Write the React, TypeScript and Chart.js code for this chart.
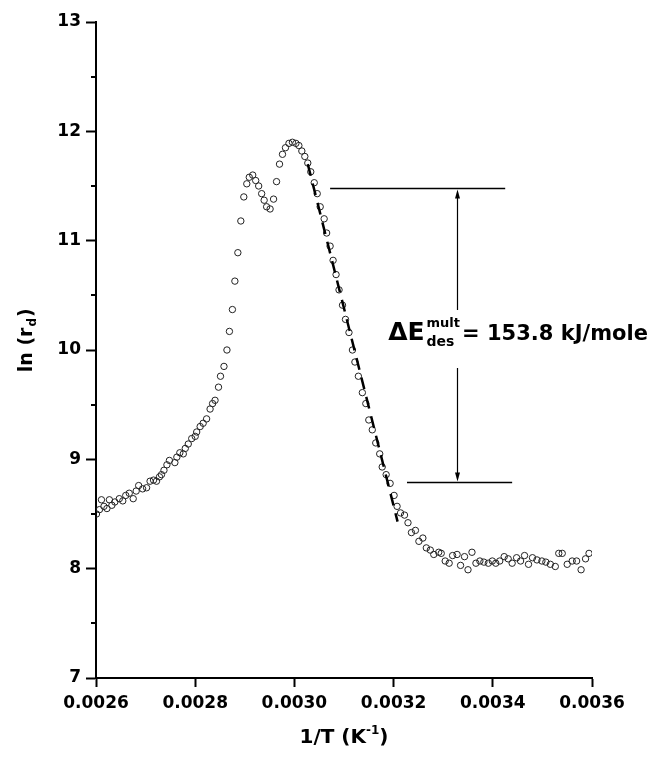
import React, { useEffect, useRef } from 'react';
import { Chart, registerables } from 'chart.js';

Chart.register(...registerables);

// ---- data ----
const inverseT = [
  0.002601, 0.002607, 0.002611, 0.002616, 0.002622, 0.002627, 0.002632, 0.002638, 0.002647, 0.002654,
  0.00266, 0.002667, 0.002675, 0.002681, 0.002686, 0.002694, 0.002702, 0.002709, 0.002716, 0.002722,
  0.002728, 0.002732, 0.002737, 0.002743, 0.002748, 0.002759, 0.002763, 0.002769, 0.002776, 0.00278,
  0.002786, 0.002793, 0.0028, 0.002803, 0.00281, 0.002816, 0.002823, 0.00283, 0.002835, 0.00284,
  0.002847, 0.002851, 0.002858, 0.002864, 0.002869, 0.002875, 0.00288, 0.002886, 0.002892, 0.002898,
  0.002904, 0.002909, 0.002916, 0.002922, 0.002928, 0.002934, 0.002939, 0.002944, 0.002951, 0.002958,
  0.002964, 0.00297, 0.002976, 0.002982, 0.002989, 0.002996, 0.003003, 0.003009, 0.003015, 0.003021,
  0.003027, 0.003033, 0.00304, 0.003046, 0.003052, 0.00306, 0.003065, 0.003072, 0.003078, 0.003084,
  0.00309, 0.003097, 0.003103, 0.00311, 0.003117, 0.003122, 0.003129, 0.003137, 0.003144, 0.00315,
  0.003157, 0.003164, 0.003172, 0.003177, 0.003185, 0.003193, 0.003201, 0.003207, 0.003214, 0.003222,
  0.003229, 0.003236, 0.003244, 0.003251, 0.003259, 0.003266, 0.003274, 0.003281, 0.003291, 0.003296,
  0.003304, 0.003312, 0.003319, 0.003328, 0.003335, 0.003343, 0.00335, 0.003358, 0.003366, 0.003374,
  0.003382, 0.003391, 0.003399, 0.003406, 0.003414, 0.003423, 0.003431, 0.003439, 0.003448, 0.003456,
  0.003464, 0.003472, 0.00348, 0.003489, 0.003499, 0.003507, 0.003516, 0.003526, 0.003533, 0.00354,
  0.00355, 0.00356, 0.003569, 0.003578, 0.003587, 0.003594,
];
const lnRd = [
  8.50, 8.54, 8.63, 8.57, 8.55, 8.63, 8.58, 8.61, 8.64, 8.62,
  8.67, 8.69, 8.64, 8.71, 8.76, 8.73, 8.74, 8.80, 8.81, 8.80,
  8.84, 8.86, 8.90, 8.95, 8.99, 8.97, 9.02, 9.06, 9.05, 9.10,
  9.14, 9.19, 9.21, 9.25, 9.30, 9.33, 9.37, 9.46, 9.51, 9.54,
  9.66, 9.76, 9.85, 10.00, 10.17, 10.37, 10.63, 10.89, 11.18, 11.40,
  11.52, 11.58, 11.60, 11.55, 11.50, 11.43, 11.37, 11.31, 11.29, 11.38,
  11.54, 11.70, 11.79, 11.85, 11.89, 11.90, 11.89, 11.87, 11.82, 11.77,
  11.71, 11.63, 11.53, 11.43, 11.31, 11.20, 11.07, 10.95, 10.82, 10.69,
  10.55, 10.41, 10.28, 10.16, 10.00, 9.89, 9.76, 9.61, 9.51, 9.36,
  9.27, 9.15, 9.05, 8.93, 8.86, 8.78, 8.67, 8.57, 8.51, 8.49,
  8.42, 8.33, 8.35, 8.25, 8.28, 8.19, 8.17, 8.13, 8.15, 8.14,
  8.07, 8.05, 8.12, 8.13, 8.03, 8.11, 7.99, 8.15, 8.05, 8.07,
  8.06, 8.05, 8.07, 8.05, 8.07, 8.11, 8.09, 8.05, 8.10, 8.07,
  8.12, 8.04, 8.10, 8.08, 8.07, 8.06, 8.04, 8.02, 8.14, 8.14,
  8.04, 8.07, 8.07, 7.99, 8.09, 8.14,
];
const fitX = [0.003027, 0.003208];
const fitY = [11.70, 8.43];

const xTickValues = [0.0026, 0.0028, 0.003, 0.0032, 0.0034, 0.0036];
const yTickValues = [7, 8, 9, 10, 11, 12, 13];
const yMinorValues = [7.5, 8.5, 9.5, 10.5, 11.5, 12.5];

// annotation (in data units)
const bracketTop = { y: 11.48, x0: 0.003072, x1: 0.003425 };
const bracketBottom = { y: 8.79, x0: 0.003227, x1: 0.003439 };
const arrowX = 0.003328;
const arrowGapTop = 10.365;
const arrowGapBottom = 9.835;
const labelX = 0.003189;
const labelBaseline = 10.09;
const labelMain = 'ΔE';
const labelSup = 'mult';
const labelSub = 'des';
const labelRest = '= 153.8 kJ/mole';

const FONT = "'DejaVu Sans', sans-serif";

const overlayPlugin = {
  id: 'overlay',
  afterDraw(chart: any) {
    const ctx = chart.ctx as CanvasRenderingContext2D;
    const xs = chart.scales.x;
    const ys = chart.scales.y;
    const area = chart.chartArea;
    ctx.save();
    ctx.strokeStyle = '#000';
    ctx.fillStyle = '#000';

    // minor y ticks
    ctx.lineWidth = 2;
    yMinorValues.forEach((v) => {
      const py = Math.round(ys.getPixelForValue(v));
      ctx.beginPath();
      ctx.moveTo(area.left - 5, py);
      ctx.lineTo(area.left, py);
      ctx.stroke();
    });

    // bracket lines
    ctx.lineWidth = 1.5;
    const tY = Math.round(ys.getPixelForValue(bracketTop.y)) + 0.5;
    ctx.beginPath();
    ctx.moveTo(xs.getPixelForValue(bracketTop.x0), tY);
    ctx.lineTo(xs.getPixelForValue(bracketTop.x1), tY);
    ctx.stroke();
    const bY = Math.round(ys.getPixelForValue(bracketBottom.y)) + 0.5;
    ctx.beginPath();
    ctx.moveTo(xs.getPixelForValue(bracketBottom.x0), bY);
    ctx.lineTo(xs.getPixelForValue(bracketBottom.x1), bY);
    ctx.stroke();

    // arrows
    const ax = Math.round(xs.getPixelForValue(arrowX)) + 0.5;
    const g1 = ys.getPixelForValue(arrowGapTop);
    const g2 = ys.getPixelForValue(arrowGapBottom);
    ctx.lineWidth = 1.2;
    ctx.beginPath();
    ctx.moveTo(ax, tY + 8);
    ctx.lineTo(ax, g1);
    ctx.moveTo(ax, g2);
    ctx.lineTo(ax, bY - 8);
    ctx.stroke();
    ctx.beginPath();
    ctx.moveTo(ax, tY + 1);
    ctx.lineTo(ax - 2.5, tY + 10);
    ctx.lineTo(ax + 2.5, tY + 10);
    ctx.closePath();
    ctx.fill();
    ctx.beginPath();
    ctx.moveTo(ax, bY - 1);
    ctx.lineTo(ax - 2.5, bY - 10);
    ctx.lineTo(ax + 2.5, bY - 10);
    ctx.closePath();
    ctx.fill();

    // label
    const lx = xs.getPixelForValue(labelX);
    const ly = ys.getPixelForValue(labelBaseline);
    ctx.textBaseline = 'alphabetic';
    ctx.textAlign = 'left';
    ctx.font = `bold 25px ${FONT}`;
    ctx.fillText(labelMain, lx, ly);
    const wMain = ctx.measureText(labelMain).width;
    ctx.font = `bold 13px ${FONT}`;
    ctx.fillText(labelSup, lx + wMain + 2, ly - 13);
    const wSup = ctx.measureText(labelSup).width;
    ctx.font = `bold 14px ${FONT}`;
    ctx.fillText(labelSub, lx + wMain + 2, ly + 6);
    const wSub = ctx.measureText(labelSub).width;
    ctx.font = `bold 21px ${FONT}`;
    ctx.fillText(labelRest, lx + wMain + 4 + Math.max(wSup, wSub), ly);

    // x-axis title: 1/T (K^-1)
    const xa = '1/T (K';
    const xb = '-1';
    const xc = ')';
    ctx.font = `bold 20px ${FONT}`;
    const wa = ctx.measureText(xa).width;
    const wc = ctx.measureText(xc).width;
    ctx.font = `bold 12px ${FONT}`;
    const wb = ctx.measureText(xb).width;
    const totalX = wa + wb + wc;
    const cx = (area.left + area.right) / 2;
    const tyX = 743;
    const sx = cx - totalX / 2;
    ctx.font = `bold 20px ${FONT}`;
    ctx.fillText(xa, sx, tyX);
    ctx.font = `bold 12px ${FONT}`;
    ctx.fillText(xb, sx + wa, tyX - 9);
    ctx.font = `bold 20px ${FONT}`;
    ctx.fillText(xc, sx + wa + wb, tyX);

    // y-axis title: ln (r_d)
    const ya = 'ln (r';
    const yb = 'd';
    const yc = ')';
    ctx.font = `bold 19px ${FONT}`;
    const wya = ctx.measureText(ya).width;
    const wyc = ctx.measureText(yc).width;
    ctx.font = `bold 12px ${FONT}`;
    const wyb = ctx.measureText(yb).width;
    const totalY = wya + wyb + wyc;
    const cy = ys.getPixelForValue(10.08);
    ctx.translate(32, cy);
    ctx.rotate(-Math.PI / 2);
    const sy = -totalY / 2;
    ctx.font = `bold 19px ${FONT}`;
    ctx.fillText(ya, sy, 0);
    ctx.font = `bold 12px ${FONT}`;
    ctx.fillText(yb, sy + wya + 1, 4);
    ctx.font = `bold 19px ${FONT}`;
    ctx.fillText(yc, sy + wya + wyb + 2, 0);

    ctx.restore();
  },
};

export default function App() {
  const canvasRef = useRef<HTMLCanvasElement | null>(null);

  useEffect(() => {
    if (!canvasRef.current) return;
    const points = inverseT.map((x, i) => ({ x, y: lnRd[i] }));
    const fit = fitX.map((x, i) => ({ x, y: fitY[i] }));
    const chart = new Chart(canvasRef.current, {
      type: 'scatter',
      data: {
        datasets: [
          {
            type: 'line',
            data: fit,
            borderColor: '#000',
            borderWidth: 2.5,
            borderDash: [12, 8],
            pointRadius: 0,
            fill: false,
          } as any,
          {
            data: points,
            pointRadius: 3.2,
            pointStyle: 'circle',
            borderColor: '#222',
            backgroundColor: 'rgba(0,0,0,0)',
            borderWidth: 1,
          },
        ],
      },
      options: {
        responsive: false,
        animation: false,
        layout: { padding: { top: 22, right: 60, bottom: 0, left: 0 } },
        plugins: { legend: { display: false }, tooltip: { enabled: false } },
        scales: {
          x: {
            type: 'linear',
            min: 0.0026,
            max: 0.0036,
            afterBuildTicks: (scale: any) => {
              scale.ticks = xTickValues.map((v) => ({ value: v }));
            },
            afterFit: (scale: any) => {
              scale.height = 84;
            },
            ticks: {
              callback: (v: any) => Number(v).toFixed(4),
              color: '#000',
              font: { family: FONT, weight: 'bold', size: 17 },
              padding: 6,
              maxRotation: 0,
              autoSkip: false,
            },
            grid: {
              display: true,
              drawOnChartArea: false,
              drawTicks: true,
              tickLength: 9,
              tickWidth: 2,
              tickColor: '#000',
            },
            border: { display: true, color: '#000', width: 2 },
          },
          y: {
            type: 'linear',
            min: 7,
            max: 13,
            afterBuildTicks: (scale: any) => {
              scale.ticks = yTickValues.map((v) => ({ value: v }));
            },
            afterFit: (scale: any) => {
              scale.width = 96;
            },
            ticks: {
              callback: (v: any) => String(v),
              color: '#000',
              font: { family: FONT, weight: 'bold', size: 17 },
              padding: 5,
            },
            grid: {
              display: true,
              drawOnChartArea: false,
              drawTicks: true,
              tickLength: 10,
              tickWidth: 2,
              tickColor: '#000',
            },
            border: { display: true, color: '#000', width: 2 },
          },
        },
      },
      plugins: [overlayPlugin],
    });
    return () => chart.destroy();
  }, []);

  return (
    <div style={{ position: 'absolute', left: 0, top: 0, width: 652, height: 762, background: '#fff' }}>
      <canvas ref={canvasRef} width={652} height={762} style={{ display: 'block' }} />
    </div>
  );
}
